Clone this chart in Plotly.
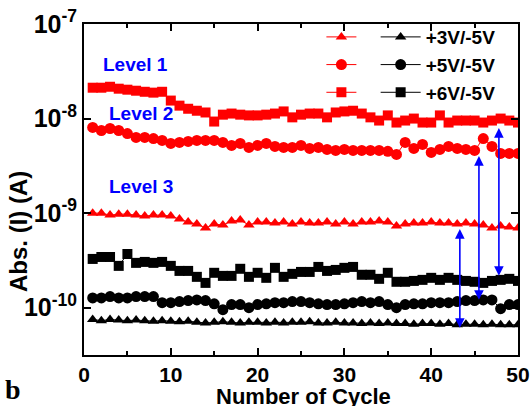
import math
import plotly.graph_objects as go

cycles = list(range(1, 51))

# +6V/-5V (Level 1, red squares)
red_sq = [2.12e-8, 2.12e-8, 2.17e-8, 2.07e-8, 2.02e-8, 1.97e-8, 1.92e-8, 1.88e-8, 1.92e-8, 1.55e-8,
          1.37e-8, 1.27e-8, 1.21e-8, 1.16e-8, 9.3e-9, 1.10e-8, 1.13e-8, 1.10e-8, 1.08e-8, 1.08e-8,
          1.10e-8, 1.13e-8, 1.19e-8, 1.03e-8, 1.10e-8, 1.13e-8, 1.13e-8, 1.03e-8, 1.16e-8, 1.19e-8,
          1.21e-8, 1.13e-8, 1.03e-8, 9.53e-9, 1.08e-8, 9.08e-9, 9.53e-9, 1.0e-8, 9.08e-9, 9.08e-9,
          1.08e-8, 9.08e-9, 9.53e-9, 9.53e-9, 9.53e-9, 9.08e-9, 9.53e-9, 1.0e-8, 9.53e-9, 9.08e-9]

# +5V/-5V (Level 2, red circles)
red_ci = [8.05e-9, 7.48e-9, 7.85e-9, 7.48e-9, 6.95e-9, 6.31e-9, 6.31e-9, 6.15e-9, 5.87e-9, 5.46e-9,
          5.59e-9, 5.73e-9, 5.87e-9, 5.87e-9, 5.87e-9, 5.59e-9, 5.2e-9, 5.46e-9, 4.95e-9, 5.2e-9,
          5.46e-9, 5.07e-9, 4.95e-9, 4.95e-9, 5.2e-9, 4.83e-9, 4.95e-9, 4.72e-9, 4.6e-9, 4.72e-9,
          4.6e-9, 4.6e-9, 4.6e-9, 4.6e-9, 4.5e-9, 4.18e-9, 5.59e-9, 4.83e-9, 5.33e-9, 4.39e-9,
          4.72e-9, 5.07e-9, 4.83e-9, 4.72e-9, 4.6e-9, 6.15e-9, 5.07e-9, 4.28e-9, 4.28e-9, 4.28e-9]

# +3V/-5V (Level 3, red triangles)
red_tr = [1.0e-9, 1.0e-9, 9.53e-10, 9.76e-10, 9.76e-10, 9.53e-10, 9.3e-10, 9.53e-10, 9.53e-10, 9.3e-10,
          8.65e-10, 8.04e-10, 7.66e-10, 6.95e-10, 7.66e-10, 7.48e-10, 8.24e-10, 8.44e-10, 7.48e-10, 8.04e-10,
          8.04e-10, 7.85e-10, 8.04e-10, 7.66e-10, 8.04e-10, 7.85e-10, 7.85e-10, 8.04e-10, 7.66e-10, 8.04e-10,
          7.66e-10, 8.04e-10, 8.04e-10, 8.24e-10, 8.04e-10, 7.3e-10, 7.66e-10, 7.85e-10, 7.85e-10, 8.04e-10,
          7.85e-10, 7.85e-10, 7.66e-10, 7.85e-10, 7.66e-10, 7.48e-10, 6.95e-10, 7.3e-10, 7.12e-10, 6.95e-10]

# +6V/-5V (black squares)
blk_sq = [3.28e-10, 3.44e-10, 3.44e-10, 2.77e-10, 3.70e-10, 2.98e-10, 3.05e-10, 2.98e-10, 3.05e-10, 2.77e-10,
          2.45e-10, 2.45e-10, 2.12e-10, 1.83e-10, 2.34e-10, 2.17e-10, 2.17e-10, 2.58e-10, 2.12e-10, 2.34e-10,
          2.07e-10, 2.64e-10, 2.12e-10, 2.28e-10, 2.39e-10, 2.39e-10, 2.70e-10, 2.45e-10, 2.51e-10, 2.64e-10,
          2.70e-10, 2.23e-10, 2.23e-10, 2.02e-10, 2.34e-10, 1.88e-10, 1.88e-10, 1.92e-10, 1.97e-10, 2.07e-10,
          1.97e-10, 2.07e-10, 1.97e-10, 1.92e-10, 1.88e-10, 1.83e-10, 1.92e-10, 1.97e-10, 2.02e-10, 1.92e-10]

# +5V/-5V (black circles)
blk_ci = [1.27e-10, 1.27e-10, 1.31e-10, 1.27e-10, 1.27e-10, 1.31e-10, 1.31e-10, 1.31e-10, 1.13e-10, 1.13e-10,
          1.16e-10, 1.19e-10, 1.21e-10, 1.19e-10, 1.10e-10, 9.53e-11, 1.08e-10, 1.08e-10, 1.0e-10, 1.08e-10,
          1.10e-10, 1.13e-10, 1.13e-10, 1.16e-10, 1.16e-10, 1.13e-10, 1.10e-10, 1.08e-10, 1.08e-10, 1.10e-10,
          1.13e-10, 1.16e-10, 1.13e-10, 1.16e-10, 1.08e-10, 1.0e-10, 1.08e-10, 1.10e-10, 1.10e-10, 1.13e-10,
          1.13e-10, 1.13e-10, 1.16e-10, 1.19e-10, 1.19e-10, 1.21e-10, 1.21e-10, 9.76e-11, 1.08e-10, 1.08e-10]

# +3V/-5V (black triangles)
blk_tr = [7.5e-11, 7.3e-11, 7.5e-11, 7.4e-11, 7.3e-11, 7.4e-11, 7.3e-11, 7.2e-11, 7.3e-11, 7.2e-11,
          7.1e-11, 7.2e-11, 7.0e-11, 6.9e-11, 7.0e-11, 7.1e-11, 7.0e-11, 6.9e-11, 7.0e-11, 7.0e-11,
          6.9e-11, 7.0e-11, 6.9e-11, 7.0e-11, 7.0e-11, 7.1e-11, 6.9e-11, 6.9e-11, 7.0e-11, 6.9e-11,
          6.9e-11, 6.8e-11, 6.9e-11, 6.8e-11, 6.9e-11, 6.8e-11, 6.8e-11, 6.7e-11, 6.8e-11, 6.8e-11,
          6.7e-11, 6.8e-11, 6.6e-11, 6.7e-11, 6.7e-11, 6.6e-11, 6.7e-11, 6.6e-11, 6.6e-11, 6.6e-11]

labels = ["+3V/-5V", "+5V/-5V", "+6V/-5V"]
y_tickvals = [1e-10, 1e-9, 1e-8, 1e-7]
y_ticktext = ["10<sup>-10</sup>", "10<sup>-9</sup>", "10<sup>-8</sup>", "10<sup>-7</sup>"]

RED = "#ff0000"
BLK = "#000000"
BLUE = "#0000ff"
FONT = "Arial, Liberation Sans, sans-serif"

fig = go.Figure()

series = [
    (red_tr, RED, "triangle-up", 10, "legend", "\u200b"),
    (red_ci, RED, "circle", 11, "legend", "\u200b"),
    (red_sq, RED, "square", 10, "legend", "\u200b"),
    (blk_tr, BLK, "triangle-up", 10, "legend2", labels[0]),
    (blk_ci, BLK, "circle", 11, "legend2", labels[1]),
    (blk_sq, BLK, "square", 10, "legend2", labels[2]),
]
for y, col, sym, sz, leg, name in series:
    fig.add_trace(go.Scatter(
        x=cycles, y=y, mode="lines+markers", name=name,
        line=dict(color=col, width=1),
        marker=dict(symbol=sym, size=sz, color=col, line=dict(width=0)),
        legend=leg,
    ))

legfont = dict(family=FONT, size=19, color="black", weight="bold")
fig.update_layout(
    template="none",
    width=531, height=406,
    margin=dict(l=84, r=13, t=24, b=51),
    paper_bgcolor="white", plot_bgcolor="white",
    legend=dict(x=0.547, y=1.018, xanchor="left", yanchor="top", bgcolor="rgba(0,0,0,0)",
                font=legfont, traceorder="normal", itemwidth=30, borderwidth=0),
    legend2=dict(x=0.672, y=1.018, xanchor="left", yanchor="top", bgcolor="rgba(0,0,0,0)",
                 font=legfont, traceorder="normal", itemwidth=40, borderwidth=0),
    xaxis=dict(range=[0, 50], tick0=0, dtick=10, ticks="inside", ticklen=7, tickwidth=2,
               tickcolor="black",
               showline=True, linewidth=2, linecolor="black", mirror="allticks",
               showgrid=False, zeroline=False, automargin=False,
               tickfont=dict(family=FONT, size=21, color="black", weight="bold"),
               minor=dict(ticks="inside", dtick=5, ticklen=4, tickwidth=1.5, tickcolor="black",
                          showgrid=False)),
    yaxis=dict(type="log", range=[-10.5, -7], tickmode="array",
               tickvals=y_tickvals, ticktext=y_ticktext,
               ticks="inside", ticklen=7, tickwidth=2, tickcolor="black",
               showline=True, linewidth=2, linecolor="black", mirror="allticks",
               showgrid=False, zeroline=False, automargin=False,
               tickfont=dict(family=FONT, size=25, color="black", weight="bold")),
    showlegend=True,
)

def px_x(px):
    return (px - 84) / (531 - 84 - 13)

def px_y(py):
    return (406 - 51 - py) / (406 - 24 - 51)

ann = [
    dict(text="Level 1", x=px_x(135), y=px_y(65), color=BLUE, size=19, fam=FONT),
    dict(text="Level 2", x=px_x(141), y=px_y(113), color=BLUE, size=19, fam=FONT),
    dict(text="Level 3", x=px_x(141), y=px_y(186), color=BLUE, size=19, fam=FONT),
    dict(text="Number of Cycle", x=px_x(303), y=px_y(396), color="black", size=22, fam=FONT),
    dict(text="b", x=px_x(13), y=px_y(389), color="black", size=28,
         fam="Liberation Serif, Times New Roman, serif"),
]
for a in ann:
    fig.add_annotation(text=a["text"], x=a["x"], y=a["y"], xref="paper", yref="paper",
                       showarrow=False, xanchor="center", yanchor="middle",
                       font=dict(family=a["fam"], size=a["size"], color=a["color"], weight="bold"))

fig.add_annotation(text="Abs. (I) (A)", x=px_x(18), y=px_y(232), xref="paper", yref="paper",
                   showarrow=False, textangle=-90, xanchor="center", yanchor="middle",
                   font=dict(family=FONT, size=24, color="black", weight="bold"))

# double-headed switching arrows (x in cycles, y in amps)
arrows = [(43.3, 6.78e-10, 5.92e-11), (45.5, 4.01e-9, 1.17e-10), (47.8, 7.94e-9, 2.10e-10)]
for xa, ytop, ybot in arrows:
    fig.add_annotation(x=xa, y=math.log10(ytop), ax=xa, ay=math.log10(ybot),
                       xref="x", yref="y", axref="x", ayref="y", text="",
                       showarrow=True, arrowhead=2, arrowside="end+start",
                       arrowsize=1.2, arrowwidth=1.6, arrowcolor=BLUE)

fig.write_html("out.html")
